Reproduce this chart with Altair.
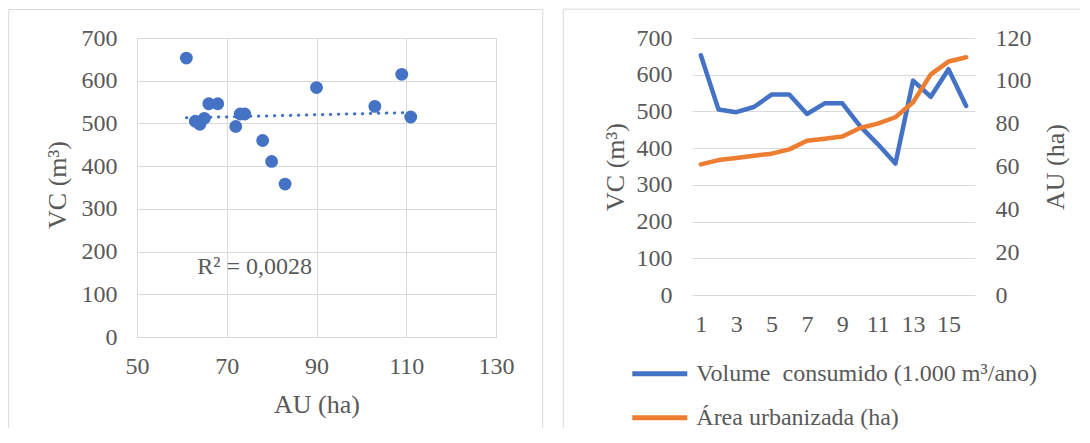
import altair as alt
import pandas as pd

# ---- data ----
AU = [61, 63, 64, 65, 66, 68, 72, 73, 74, 78, 80, 83, 90, 103, 109, 111]
VC = [653, 505, 498, 512, 546, 546, 493, 522, 522, 460, 411, 358, 584, 540, 615, 515]
IDX = list(range(1, 17))

X_TICKS = [50, 70, 90, 110, 130]
VC_TICKS = [0, 100, 200, 300, 400, 500, 600, 700]
AU_TICKS = [0, 20, 40, 60, 80, 100, 120]
IDX_TICKS = [1, 3, 5, 7, 9, 11, 13, 15]

LABEL_VC = "Volume\u00a0 consumido (1.000 m³/ano)"
LABEL_AU = "Área urbanizada (ha)"
R2_LABEL = ["R² = 0,0028"]

FONT = "Liberation Serif"
GREY = "#595959"
GRID = "#d9d9d9"
BLUE = "#4472C4"
ORANGE = "#ED7D31"

df = pd.DataFrame({"idx": IDX, "AU": AU, "VC": VC})
df_vc = pd.DataFrame({"idx": IDX, "VC": VC, "series": [LABEL_VC] * len(IDX)})
df_au = pd.DataFrame({"idx": IDX, "AU": AU, "series": [LABEL_AU] * len(IDX)})
one = pd.DataFrame({"t": R2_LABEL})

LW, LH = 359, 299
RW, RH = 283, 257

lab = dict(labelFont=FONT, labelFontSize=24, labelColor=GREY,
           titleFont=FONT, titleFontSize=26, titleColor=GREY, titleFontWeight="normal",
           ticks=False, tickSize=0)

# ---------------- left panel: scatter ----------------
lx = alt.X("AU:Q", scale=alt.Scale(domain=[50, 130], nice=False, zero=False),
           axis=alt.Axis(values=X_TICKS, grid=True, gridColor=GRID, domainColor=GRID,
                         labelPadding=17, labelFlush=False, title="AU (ha)", titleY=75.5,
                         titleBaseline="alphabetic", **lab))
ly = alt.Y("VC:Q", scale=alt.Scale(domain=[0, 700], nice=False),
           axis=alt.Axis(values=VC_TICKS, grid=True, gridColor=GRID, domainColor=GRID,
                         labelPadding=20, title="VC (m³)", titleAngle=270,
                         titleX=-71.5, titleY=146.5, titleAlign="center",
                         titleBaseline="alphabetic", **lab))

pts = alt.Chart(df).mark_circle(size=165, opacity=1, color=BLUE).encode(x=lx, y=ly)
trend = alt.Chart(df).transform_regression("AU", "VC", extent=[61, 111]).mark_line(
    color=BLUE, strokeWidth=3, strokeDash=[0.5, 7.5], strokeCap="round").encode(x=lx, y=ly)
r2 = alt.Chart(one).mark_text(font=FONT, fontSize=24, color=GREY, align="center",
                              baseline="middle").encode(
    text="t:N", x=alt.datum(76.2), y=alt.datum(164))

# chart-area border of the left chart
lborder = alt.Chart(one).mark_rule(color=GRID, strokeWidth=1)
lb1 = lborder.encode(x=alt.value(-128.3), y=alt.value(-28.5), y2=alt.value(390))
lb2 = lborder.encode(x=alt.value(-128.3), x2=alt.value(405.7), y=alt.value(-28.5))
lb3 = lborder.encode(x=alt.value(405.7), y=alt.value(-28.5), y2=alt.value(390))

left = alt.layer(lb1, lb2, lb3, trend, pts, r2).properties(width=LW, height=LH)

# ---------------- right panel: dual axis lines ----------------
rx = alt.X("idx:O", scale=alt.Scale(type="point", padding=0.5),
           axis=alt.Axis(values=IDX_TICKS, labelAngle=0, grid=False, domain=False,
                         labelPadding=17, title=None, **lab))
color_scale = alt.Scale(domain=[LABEL_VC, LABEL_AU], range=[BLUE, ORANGE])
legend = alt.Legend(orient="none", legendX=-62.2, legendY=305.8, title=None,
                    symbolType="stroke", symbolSize=3025, symbolStrokeWidth=5,
                    labelFont=FONT, labelFontSize=24, labelColor=GREY,
                    labelOffset=6.5, labelLimit=600, rowPadding=2)

vc_line = alt.Chart(df_vc).mark_line(strokeWidth=4.5, strokeCap="round", strokeJoin="round").encode(
    x=rx,
    y=alt.Y("VC:Q", scale=alt.Scale(domain=[0, 700], nice=False),
            axis=alt.Axis(values=VC_TICKS, grid=True, gridColor=GRID, domain=False,
                          labelPadding=20, title="VC (m³)", titleAngle=270,
                          titleX=-68.5, titleBaseline="alphabetic", **lab)),
    color=alt.Color("series:N", scale=color_scale, legend=legend),
)
au_line = alt.Chart(df_au).mark_line(strokeWidth=4.5, strokeCap="round", strokeJoin="round").encode(
    x=rx,
    y=alt.Y("AU:Q", scale=alt.Scale(domain=[0, 120], nice=False),
            axis=alt.Axis(orient="right", values=AU_TICKS, grid=False, domain=False,
                          labelPadding=20, title="AU (ha)", titleAngle=270,
                          titleX=88, titleBaseline="alphabetic", **lab)),
    color=alt.Color("series:N", scale=color_scale, legend=legend),
)

rborder = alt.Chart(one).mark_rule(color=GRID, strokeWidth=1)
rb1 = rborder.encode(x=alt.value(-128.7), y=alt.value(-28.8), y2=alt.value(390))
rb2 = rborder.encode(x=alt.value(-128.7), x2=alt.value(388), y=alt.value(-28.8))

right = alt.layer(rb1, rb2, vc_line, au_line).resolve_scale(y="independent").properties(
    width=RW, height=RH)

chart = alt.hconcat(left, right, spacing=196, bounds="flush").resolve_scale(
    color="independent").properties(padding=0, background="white").configure_view(
    strokeWidth=0)

chart.save("out.html", embed_options={"renderer": "svg", "actions": False})
